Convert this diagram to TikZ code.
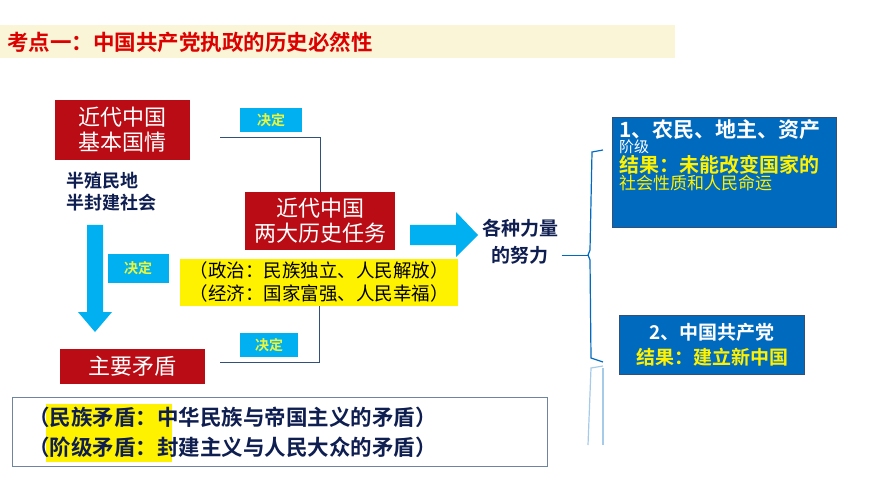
\documentclass[tikz,border=0pt]{standalone}
\usepackage{fontspec}
\setmainfont{Noto Sans CJK SC}[BoldFont={Noto Sans CJK SC Bold}]
\usetikzlibrary{arrows.meta, calc, positioning}
\definecolor{titlebg}{RGB}{250,245,215}
\definecolor{titlered}{RGB}{220,0,0}
\definecolor{boxred}{RGB}{185,12,20}
\definecolor{skyblue}{RGB}{0,176,240}
\definecolor{deepblue}{RGB}{0,106,190}
\definecolor{inkblue}{RGB}{15,30,80}
\definecolor{labelyellow}{RGB}{235,245,60}
\definecolor{linkblue}{RGB}{50,80,120}
\tikzset{
  redbox/.style={fill=boxred, text=white, font=\fontsize{22}{25}\selectfont, align=center, inner sep=0pt},
  decide/.style={fill=skyblue, text=labelyellow, font=\bfseries\fontsize{14}{16}\selectfont, inner sep=0pt},
  bluebox/.style={fill=deepblue, draw=linkblue, inner sep=0pt},
  link/.style={linkblue, thick}
}
\begin{document}
\begin{tikzpicture}[x=1pt, y=-1pt]
    \useasboundingbox (0,0) rectangle (870,489);
    % Title band
    \fill[titlebg] (0,25) rectangle (675,58);
    \node[anchor=west, text=titlered, font=\bfseries\fontsize{21.5}{23}\selectfont, inner sep=0pt] (title) at (7,42) {考点一：中国共产党执政的历史必然性};

    % Left column
    \node[redbox, minimum width=135, minimum height=60] (basic) at (122,130) {近代中国\\基本国情};
    \node[text=inkblue, font=\bfseries\fontsize{18}{22}\selectfont, align=left, anchor=north west, inner sep=0pt] (nature) at (66,172) {半殖民地\\半封建社会};
    \fill[skyblue] (87,225) -- (103,225) -- (103,312) -- (112,312) -- (95,332) -- (78,312) -- (87,312) -- cycle;
    \node[decide, minimum width=61, minimum height=29] (dec2) at (138,268) {决定};
    \node[redbox, minimum width=145, minimum height=35] (conflict) at (132,366) {主要矛盾};

    % Middle column
    \node[redbox, minimum width=150, minimum height=57] (tasks) at (320,221) {近代中国\\两大历史任务};
    \node[fill=yellow, font=\fontsize{18.5}{23}\selectfont, align=left, minimum width=278, minimum height=47, inner sep=0pt] (goals) at (319,282) {（政治：民族独立、人民解放）\\（经济：国家富强、人民幸福）};
    \node[decide, minimum width=62, minimum height=24] (dec1) at (271,120) {决定};
    \node[decide, minimum width=58, minimum height=24] (dec3) at (269,345) {决定};
    \coordinate (top1) at (220,137);
    \coordinate (bot1) at (220,362);
    \draw[link] (top1) -- (tasks.north |- top1) -- (tasks.north);
    \draw[link] (bot1) -- (goals.south |- bot1) -- (goals.south);

    \fill[skyblue] (410,225) -- (456,225) -- (456,212) -- (478,235) -- (456,257) -- (456,245) -- (410,245) -- cycle;
    \node[text=inkblue, font=\bfseries\fontsize{19}{27}\selectfont, align=center] (efforts) at (520,242) {各种力量\\的努力};

    % Brace
    \coordinate (bracemid) at (588,255);
    \draw[deepblue, thick] (efforts.east |- bracemid) -- (bracemid);
    \draw[deepblue, very thick] (603,150) -- (592,152) -- (590,250) -- (bracemid) -- (590,260) -- (591,358) -- (603,362);
    \draw[deepblue!35, very thick] (603,366) -- (591,368) -- (588,445);
    \draw[deepblue!35, very thick] (603,368) -- (603,445);

    % Right boxes
    \node[bluebox, minimum width=224, minimum height=110] (force1) at (724,172) {};
    \node[anchor=north west, align=left, inner sep=0pt] (force1txt) at (619,119) {%
      {\color{white}\bfseries\fontsize{21}{24}\selectfont 1、农民、地主、资产}\\
      {\color{white}\fontsize{15}{22}\selectfont 阶级}\\
      {\color{yellow}\bfseries\fontsize{20}{26}\selectfont 结果：未能改变国家的}\\
      {\color{yellow}\fontsize{17}{22}\selectfont 社会性质和人民命运}};
    \node[bluebox, minimum width=185, minimum height=59] (force2) at (712,345) {};
    \node[align=center, font=\bfseries\fontsize{19}{25}\selectfont, inner sep=0pt] (force2txt) at (force2) {{\color{white}2、中国共产党}\\{\color{yellow}结果：建立新中国}};

    % Bottom box
    \node[draw=linkblue!70, minimum width=535, minimum height=69, inner sep=0pt] (detail) at (280,432) {};
    \fill[yellow] (46,404) rectangle (172,462);
    \node[anchor=west, text=inkblue, font=\bfseries\fontsize{21.5}{30}\selectfont, align=left, inner sep=0pt] (detailtxt) at (28,432) {（民族矛盾：中华民族与帝国主义的矛盾）\\（阶级矛盾：封建主义与人民大众的矛盾）};
\end{tikzpicture}
\end{document}
